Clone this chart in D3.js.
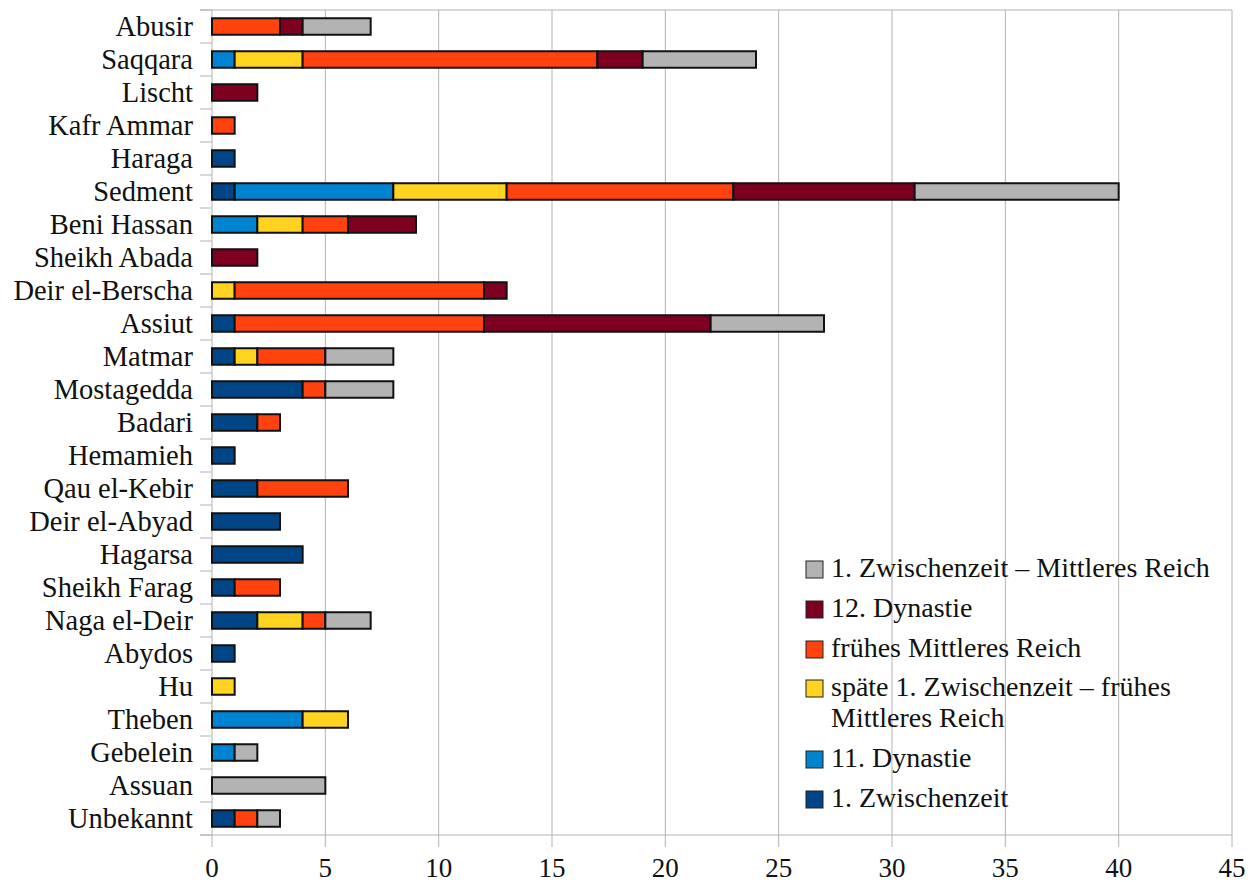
<!DOCTYPE html>
<html>
<head>
<meta charset="utf-8">
<script src="https://cdn.jsdelivr.net/npm/d3@7"></script>
<style>
  body { margin: 0; background: #fff; }
  text { font-family: "Liberation Serif", "DejaVu Serif", serif; fill: #111; }
</style>
</head>
<body>
<svg id="chart" width="1253" height="882"></svg>
<script>
// Fundorte (oben nach unten)
var orte = ["Abusir", "Saqqara", "Lischt", "Kafr Ammar", "Haraga", "Sedment", "Beni Hassan",
  "Sheikh Abada", "Deir el-Berscha", "Assiut", "Matmar", "Mostagedda", "Badari", "Hemamieh",
  "Qau el-Kebir", "Deir el-Abyad", "Hagarsa", "Sheikh Farag", "Naga el-Deir", "Abydos", "Hu",
  "Theben", "Gebelein", "Assuan", "Unbekannt"];

// Reihen in Stapel-Reihenfolge (links nach rechts)
var serien = ["1. Zwischenzeit", "11. Dynastie", "späte 1. Zwischenzeit – frühes Mittleres Reich",
  "frühes Mittleres Reich", "12. Dynastie", "1. Zwischenzeit – Mittleres Reich"];
var farben = ["#004586", "#0084d1", "#ffd320", "#ff420e", "#7e0021", "#b3b3b3"];

var d_1zz   = [0, 0, 0, 0, 1, 1, 0, 0, 0, 1, 1, 4, 2, 1, 2, 3, 4, 1, 2, 1, 0, 0, 0, 0, 1];
var d_11dyn = [0, 1, 0, 0, 0, 7, 2, 0, 0, 0, 0, 0, 0, 0, 0, 0, 0, 0, 0, 0, 0, 4, 1, 0, 0];
var d_spaet = [0, 3, 0, 0, 0, 5, 2, 0, 1, 0, 1, 0, 0, 0, 0, 0, 0, 0, 2, 0, 1, 2, 0, 0, 0];
var d_fmr   = [3, 13, 0, 1, 0, 10, 2, 0, 11, 11, 3, 1, 1, 0, 4, 0, 0, 2, 1, 0, 0, 0, 0, 0, 1];
var d_12dyn = [1, 2, 2, 0, 0, 8, 3, 2, 1, 10, 0, 0, 0, 0, 0, 0, 0, 0, 0, 0, 0, 0, 0, 0, 0];
var d_zzmr  = [3, 5, 0, 0, 0, 9, 0, 0, 0, 5, 3, 3, 0, 0, 0, 0, 0, 0, 2, 0, 0, 0, 1, 5, 1];

var xTicks = [0, 5, 10, 15, 20, 25, 30, 35, 40, 45];

var reihen = [d_1zz, d_11dyn, d_spaet, d_fmr, d_12dyn, d_zzmr];
var tabelle = orte.map(function(o, i) {
  var r = { ort: o };
  serien.forEach(function(s, j) { r[s] = reihen[j][i]; });
  return r;
});

var svg = d3.select("#chart");
var links = 212, rechts = 1232, oben = 10, unten = 835;

var x = d3.scaleLinear().domain([0, 45]).range([links, rechts]);
var y = d3.scaleBand().domain(orte).range([oben, unten]).paddingInner(0.5).paddingOuter(0.25);

// Gitter
svg.append("g").selectAll("line").data(xTicks).join("line")
  .attr("x1", function(d) { return x(d); }).attr("x2", function(d) { return x(d); })
  .attr("y1", oben).attr("y2", unten + 12)
  .attr("stroke", "#b3b3b3").attr("stroke-width", 1);

// Rahmen
svg.append("line").attr("x1", links - 12).attr("x2", rechts).attr("y1", oben).attr("y2", oben)
  .attr("stroke", "#b3b3b3");
svg.append("line").attr("x1", links - 12).attr("x2", rechts).attr("y1", unten).attr("y2", unten)
  .attr("stroke", "#b3b3b3");

// Kategorie-Ticks links
var grenzen = d3.range(orte.length + 1).map(function(i) { return oben + i * (unten - oben) / orte.length; });
svg.append("g").selectAll("line").data(grenzen).join("line")
  .attr("x1", links - 12).attr("x2", links)
  .attr("y1", function(d) { return d; }).attr("y2", function(d) { return d; })
  .attr("stroke", "#b3b3b3");

// Stapel
var stack = d3.stack().keys(serien)(tabelle);
svg.append("g").selectAll("g").data(stack).join("g")
  .attr("fill", function(d, i) { return farben[i]; })
  .selectAll("rect").data(function(d) { return d.filter(function(p) { return p[1] > p[0]; }); })
  .join("rect")
  .attr("x", function(p) { return x(p[0]); })
  .attr("width", function(p) { return x(p[1]) - x(p[0]); })
  .attr("y", function(p) { return y(p.data.ort); })
  .attr("height", y.bandwidth())
  .attr("stroke", "#111").attr("stroke-width", 2);

// Beschriftungen
svg.append("g").selectAll("text").data(orte).join("text")
  .attr("x", 193)
  .attr("y", function(d) { return y(d) + y.bandwidth() / 2 + 9; })
  .attr("text-anchor", "end")
  .style("font-size", "28.5px")
  .text(function(d) { return d; });

svg.append("g").selectAll("text").data(xTicks).join("text")
  .attr("x", function(d) { return x(d); })
  .attr("y", 877)
  .attr("text-anchor", "middle")
  .style("font-size", "27px")
  .text(function(d) { return d; });

// Legende (umgekehrte Reihenfolge)
var legende = [
  { i: 5, zeilen: ["1. Zwischenzeit – Mittleres Reich"], yy: 577 },
  { i: 4, zeilen: ["12. Dynastie"], yy: 617 },
  { i: 3, zeilen: ["frühes Mittleres Reich"], yy: 657 },
  { i: 2, zeilen: ["späte 1. Zwischenzeit – frühes", "Mittleres Reich"], yy: 696 },
  { i: 1, zeilen: ["11. Dynastie"], yy: 767 },
  { i: 0, zeilen: ["1. Zwischenzeit"], yy: 807 }
];
var lg = svg.append("g").selectAll("g").data(legende).join("g");
lg.append("rect")
  .attr("x", 806).attr("y", function(d) { return d.yy - 16; })
  .attr("width", 17).attr("height", 17)
  .attr("fill", function(d) { return farben[d.i]; })
  .attr("stroke", "#222").attr("stroke-width", 1);
lg.append("text")
  .attr("x", 831).attr("y", function(d) { return d.yy; })
  .style("font-size", "28px")
  .selectAll("tspan").data(function(d) { return d.zeilen; }).join("tspan")
  .attr("x", 831).attr("dy", function(d, k) { return k === 0 ? 0 : 31; })
  .text(function(d) { return d; });
</script>
</body>
</html>
